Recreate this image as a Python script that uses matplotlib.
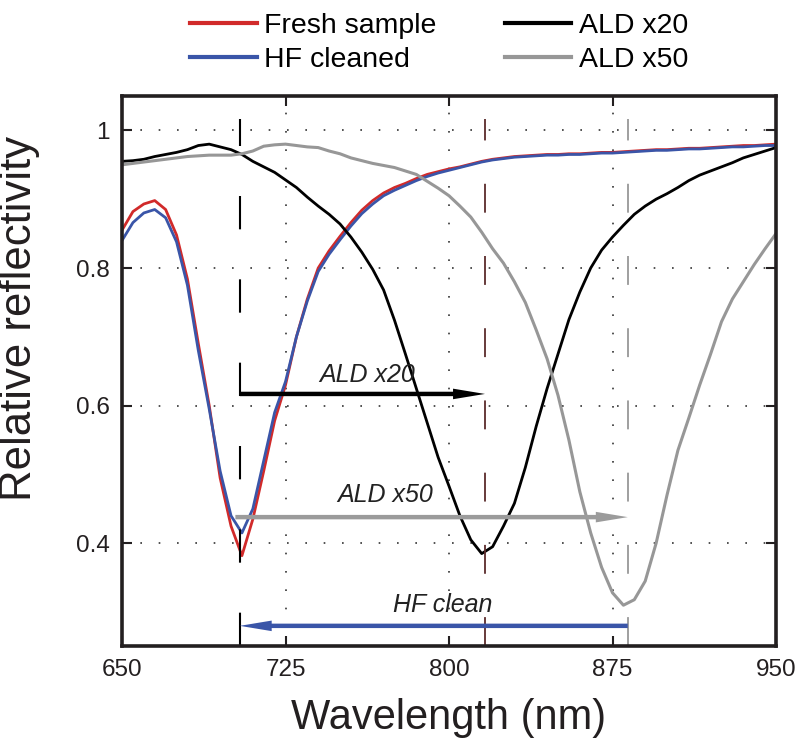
import numpy as np
import matplotlib
matplotlib.use("Agg")
import matplotlib.pyplot as plt

plt.rcParams['font.family'] = ['Liberation Sans', 'DejaVu Sans']

# wavelength grid (nm), readings every 5 nm
wavelength = np.arange(650, 951, 5)

fresh = [0.855, 0.882, 0.893, 0.898, 0.885, 0.848, 0.784, 0.690, 0.600, 0.495,
         0.425, 0.382, 0.435, 0.505, 0.578, 0.630, 0.700, 0.755, 0.800, 0.825,
         0.846, 0.866, 0.884, 0.898, 0.909, 0.917, 0.923, 0.930, 0.936, 0.940,
         0.944, 0.947, 0.951, 0.955, 0.958, 0.960, 0.962, 0.963, 0.964, 0.965,
         0.965, 0.966, 0.966, 0.967, 0.968, 0.968, 0.969, 0.970, 0.971, 0.972,
         0.972, 0.973, 0.974, 0.974, 0.975, 0.976, 0.977, 0.978, 0.978, 0.979,
         0.980]

hf_cleaned = [0.840, 0.866, 0.880, 0.885, 0.873, 0.838, 0.775, 0.680, 0.595, 0.505,
              0.440, 0.415, 0.450, 0.520, 0.590, 0.635, 0.700, 0.752, 0.795, 0.820,
              0.841, 0.861, 0.879, 0.893, 0.905, 0.913, 0.920, 0.927, 0.933, 0.938,
              0.942, 0.946, 0.950, 0.954, 0.957, 0.959, 0.961, 0.962, 0.963, 0.964,
              0.964, 0.965, 0.965, 0.966, 0.967, 0.967, 0.968, 0.969, 0.970, 0.971,
              0.971, 0.972, 0.973, 0.973, 0.974, 0.975, 0.976, 0.976, 0.977, 0.978,
              0.978]

ald_x20 = [0.955, 0.956, 0.958, 0.962, 0.965, 0.968, 0.972, 0.978, 0.980, 0.976,
           0.972, 0.965, 0.955, 0.947, 0.939, 0.928, 0.917, 0.903, 0.890, 0.878,
           0.864, 0.845, 0.823, 0.798, 0.768, 0.724, 0.675, 0.625, 0.575, 0.525,
           0.483, 0.440, 0.405, 0.385, 0.395, 0.425, 0.458, 0.510, 0.570, 0.625,
           0.675, 0.725, 0.765, 0.800, 0.826, 0.845, 0.862, 0.878, 0.890, 0.900,
           0.908, 0.917, 0.927, 0.935, 0.941, 0.947, 0.953, 0.960, 0.965, 0.970,
           0.975]

ald_x50 = [0.950, 0.952, 0.954, 0.956, 0.958, 0.960, 0.962, 0.963, 0.964, 0.964,
           0.964, 0.966, 0.970, 0.977, 0.979, 0.980, 0.978, 0.976, 0.975, 0.970,
           0.966, 0.960, 0.956, 0.952, 0.949, 0.946, 0.941, 0.936, 0.926, 0.916,
           0.905, 0.890, 0.874, 0.852, 0.828, 0.807, 0.780, 0.750, 0.710, 0.668,
           0.615, 0.550, 0.475, 0.415, 0.365, 0.328, 0.310, 0.318, 0.345, 0.400,
           0.470, 0.535, 0.582, 0.630, 0.675, 0.722, 0.755, 0.780, 0.805, 0.828,
           0.850]

# resonance positions (nm) and arrow heights
dip_fresh, dip_x20, dip_x50 = 704, 816.5, 882
arrow_x20_y, arrow_x50_y, arrow_hf_y = 0.617, 0.438, 0.280

red = '#d12a2a'
blue = '#3a55a8'
black = '#000000'
gray = '#979797'
brown = '#5a2b2b'
frame = '#231f20'

fig = plt.figure(figsize=(7.95, 7.48), dpi=100)
ax = fig.add_axes([0.1535, 0.1357, 0.8226, 0.736])

ax.plot(wavelength, fresh, color=red, lw=2.0, label='Fresh sample')
ax.plot(wavelength, hf_cleaned, color=blue, lw=2.0, label='HF cleaned')
ax.plot(wavelength, ald_x20, color=black, lw=2.0, label='ALD x20')
ax.plot(wavelength, ald_x50, color=gray, lw=2.2, label='ALD x50')

# dashed markers at each dip
dash = (0, (16, 24))
ax.plot([dip_fresh, dip_fresh], [0.25, 1.016], color=black, lw=1.5, ls=dash)
ax.plot([dip_x20, dip_x20], [0.25, 1.016], color=brown, lw=1.3, ls=dash)
ax.plot([dip_x50, dip_x50], [0.25, 1.016], color=gray, lw=1.3, ls=dash)

# shift arrows (filled shape so the tip lands exactly on the dip line)
def shift_arrow(x0, x1, y, color):
    ax.annotate('', xy=(x1, y), xytext=(x0, y),
                arrowprops=dict(arrowstyle='simple,head_length=1.15,head_width=0.38,tail_width=0.16',
                                mutation_scale=20, lw=0, color=color,
                                shrinkA=0, shrinkB=0))

shift_arrow(dip_fresh, dip_x20, arrow_x20_y, black)
shift_arrow(702, dip_x50, arrow_x50_y, '#9b9b9b')
shift_arrow(dip_x50, dip_fresh, arrow_hf_y, blue)

txt = dict(fontsize=18, style='italic', ha='center', va='center', color='#222222')
ax.text(762.5, 0.645, 'ALD x20', **txt)
ax.text(770.5, 0.470, 'ALD x50', **txt)
ax.text(797, 0.310, 'HF clean', **txt)

ax.set_xlim(650, 950)
ax.set_ylim(0.25, 1.05)
ax.set_xticks([650, 725, 800, 875, 950])
ax.set_yticks([0.4, 0.6, 0.8, 1.0])
ax.set_yticklabels(['0.4', '0.6', '0.8', '1'])
ax.tick_params(direction='in', length=7, width=1.5, labelsize=17.5, pad=9,
               top=True, right=True, colors=frame)
ax.grid(True, color='#333333', lw=1.2, ls=(0, (1, 10)))
for s in ax.spines.values():
    s.set_linewidth(2.6)
    s.set_color(frame)

ax.set_xlabel('Wavelength (nm)', fontsize=30, color=frame, labelpad=12)
ax.set_ylabel('Relative reflectivity', fontsize=31.5, color=frame)
ax.yaxis.set_label_coords(-0.125, 0.595)

fig.legend(loc='upper center', bbox_to_anchor=(0.552, 1.006), ncol=2,
           frameon=False, fontsize=20.5, handlelength=2.35, handletextpad=0.25,
           columnspacing=2.4, labelspacing=0.28, borderaxespad=0.2)
for h in fig.legends[0].get_lines():
    h.set_linewidth(3)

fig.savefig('out.png', dpi=100)
